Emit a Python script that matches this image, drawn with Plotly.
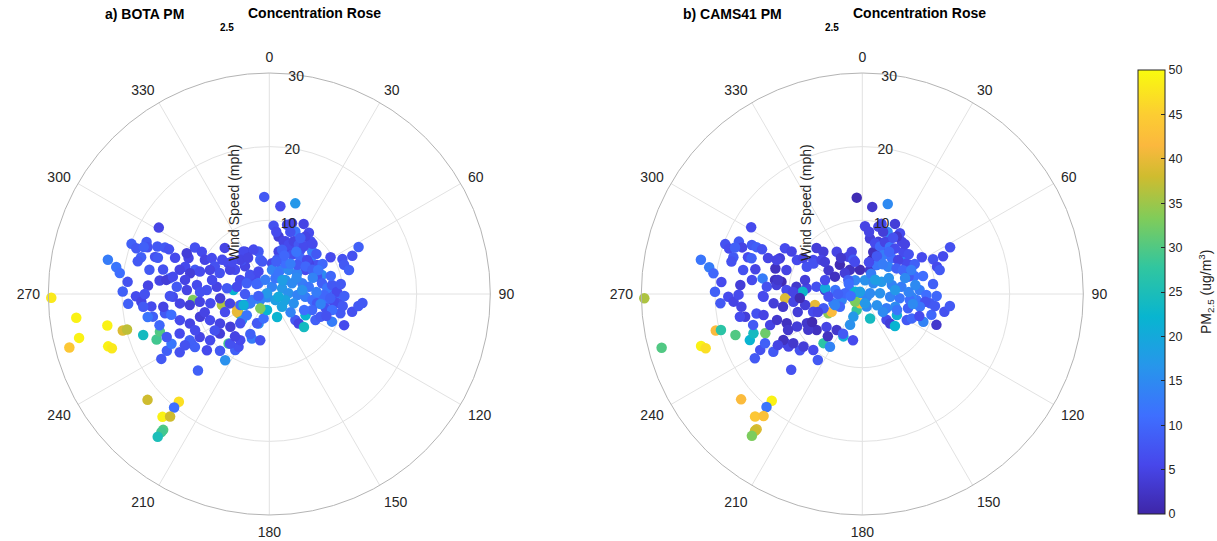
import plotly.graph_objects as go

# ---- BOTA station: wind direction (deg), wind speed (mph), PM2.5 (ug/m3) ----
bota_dir = [
    269, 263, 259, 257, 255, 252, 251, 256, 256, 252, 248, 251, 229, 220, 220, 221, 219, 218, 218, 218,
    282, 280, 278, 271, 301, 290, 289, 293, 291, 290.5, 293, 294, 294, 286, 284, 288, 288, 283, 279, 277,
    266, 269, 266.5, 274, 270, 264, 259, 259.3, 259.5, 258, 239, 241, 243, 237, 223, 237.5, 234.5, 228, 221, 213.7,
    302, 302, 294, 288, 288, 298, 302, 297, 306, 316,
    357, 7.2, 16, 3.6, 14.4, 17.8, 26.1, 22.6, 32.9, 38.1, 32.1, 17, 27.9, 27.3, 21.2, 35.2, 45.3, 50.3, 12.4, 19.6,
    12.8, 5, 345.8, 345.2, 330.4, 59, 64.5, 65.3, 62.2, 68.7, 73.2, 70.2, 58.7, 56.3, 52, 86, 90.9, 97.6, 96, 93,
    96.8, 105.2, 112.6, 113.8, 102.1, 97.7, 135, 135, 133.6, 120.3, 119.5, 114, 135, 161.3, 194, 200, 201.3,
    276.4, 248.5, 237.8, 199.6, 245.4, 251, 226.4, 219.5, 211.3, 210.2, 305.2, 318.7, 304, 321, 321.2, 307, 315, 344, 20, 210, 250, 135,
    6.4, 24.6, 38.8, 53.2, 48.8, 21, 64.8, 71.9, 79.5, 65.8, 88, 92, 94.3, 98, 110.6, 111, 287, 106,
    9.2, 15.3, 21.5, 24.9, 30.9, 36, 16.1, 30.2, 41, 48, 27.5, 43.7, 52.8, 60.7, 70,
    78.5, 84.4, 81.8, 88, 91, 94, 101, 110.5, 104.3, 104.3,
    328.7, 285.1, 284.7, 287.9, 292.1, 292.9, 301.6, 295.8, 315, 334.4,
    274.5, 272.8, 277.1, 273.7, 277.9, 277.7, 282.7, 295.6, 265.5, 256.9,
    241.3, 268.4, 264, 262.1, 263.6, 261, 265, 256.6, 249.2, 243.9,
    236.3, 253.7, 249.6, 251.8, 246.2, 239.1, 230, 224.7, 226.7, 202.8,
    193.2, 247.3, 246.2, 239.8, 238.3, 232, 231.3, 218.4, 212.2, 264.2,
    263.1, 277.8, 280.2, 296.3, 319.5, 340.4, 246.8, 188, 212, 95.5,
    6.4, 18.7, 29, 40.7, 21.5, 32.7, 49.6, 60.5, 35, 12.3,
    63.9, 73.6, 82, 69.6, 59.3, 24.2, 83, 87.6, 91.5, 101, 114.6, 99.3, 111, 130.6, 42.9,
    310.9, 329.7, 347.7, 307.6, 270, 283.8, 271.7, 279.5, 247.8, 236.3, 205.4,
    191.1, 219, 244, 254.3, 268.8, 254.1, 238.7, 281.4, 274.9, 291, 259.7,
]
bota_speed = [
    29.6, 26.4, 22.4, 26.5, 28.1, 23.0, 22.6, 20.5, 19.9, 18.0, 16.5, 15.7, 21.9, 19.1, 20.1, 22.1, 21.4, 23.4, 23.8, 24.6,
    22.4, 21.1, 20.5, 19.9, 17.5, 19.9, 19.1, 18.1, 17.7, 18.2, 16.5, 15.5, 14.9, 18.1, 18.4, 16.3, 15.9, 14.8, 13.7, 15.0,
    19.2, 18.1, 17.4, 16.5, 16.9, 16.1, 16.1, 16.8, 14.4, 13.6, 17.1, 15.9, 14.9, 14.5, 14.2, 12.5, 12.4, 11.4, 10.2, 10.8,
    11.9, 10.8, 12.0, 12.0, 10.6, 9.9, 9.2, 8.3, 7.9, 8.7,
    13.2, 12.0, 12.8, 9.3, 9.7, 10.1, 10.6, 9.2, 9.9, 9.1, 9.2, 7.5, 8.1, 6.8, 6.7, 7.3, 8.2, 7.3, 5.9, 5.2,
    4.8, 4.2, 5.95, 4.8, 6.6, 9.7, 11.0, 12.4, 13.7, 10.9, 11.3, 7.6, 7.6, 5.9, 6.8, 8.1, 9.0, 9.5, 7.7, 6.7,
    8.8, 10.0, 11.0, 9.3, 11.5, 12.2, 5.0, 5.65, 6.5, 5.7, 7.2, 7.6, 2.45, 3.3, 2.25, 4.25, 6.5,
    4.9, 4.7, 4.9, 2.3, 3.6, 2.5, 5.1, 8.7, 8.9, 8.3, 5.7, 5.0, 3.4, 3.0, 5.9, 7.0, 2.06, 2.0, 1.06, 0.5, 1.06, 1.16,
    3.3, 3.6, 4.2, 4.7, 2.9, 2.3, 3.4, 4.7, 5.45, 1.9, 2.6, 3.8, 4.9, 5.9, 2.3, 3.55, 0.33, 1.3,
    7.9, 7.4, 7.2, 7.9, 7.8, 8.0, 6.25, 6.2, 6.45, 6.9, 4.7, 5.5, 6.2, 6.7, 6.9,
    7.3, 7.9, 8.6, 9.2, 7.4, 8.3, 6.6, 6.2, 7.9, 8.8,
    6.75, 12.6, 11.1, 9.9, 8.7, 7.3, 6.25, 4.4, 3.7, 3.4,
    12.6, 11.2, 9.9, 8.5, 7.2, 5.8, 4.5, 3.4, 10.4, 6.6,
    5.0, 13.1, 12.2, 10.9, 9.5, 8.1, 6.7, 5.5, 4.2, 2.9,
    1.5, 12.65, 11.5, 9.9, 8.8, 7.8, 6.9, 5.6, 4.2, 4.3,
    3.4, 15.1, 13.3, 12.5, 11.1, 10.2, 8.6, 8.6, 7.4, 17.2,
    14.5, 14.1, 13.3, 12.5, 6.1, 6.4, 3.8, 2.2, 2.3, 12.7,
    8.5, 8.9, 8.7, 9.0, 5.6, 6.8, 8.4, 8.3, 5.0, 4.5,
    7.4, 8.7, 9.8, 6.3, 4.3, 3.0, 4.5, 6.4, 10.2, 7.1, 5.2, 10.1, 8.3, 3.8, 2.6,
    6.7, 5.7, 4.5, 2.2, 3.3, 8.0, 9.4, 11.6, 6.5, 8.9, 6.0,
    6.4, 7.4, 11.2, 9.1, 13.5, 15.5, 13.4, 16.6, 19.3, 13.7, 1.5,
]
bota_pm = [
    48, 49, 49, 49, 44, 49, 48, 39, 37, 24, 29, 30, 38, 47, 11, 49, 38, 30, 29, 25,
    13, 12, 11, 9, 5, 9, 8, 8, 7, 9, 8, 8, 7, 9, 8, 7, 8, 7, 10, 5,
    9, 6, 5, 5, 7, 6, 9, 12, 8, 11, 8, 9, 12, 7, 9, 8, 9, 6, 8, 16,
    7, 6, 5, 6, 8, 5, 6, 7, 6, 5,
    8, 6, 17, 7, 6, 5, 5, 12, 6, 7, 5, 6, 12, 8, 5, 7, 13, 12, 5, 6,
    8, 6, 8, 9, 4, 6, 7, 7, 9, 8, 9, 15, 7, 6, 5, 8, 10, 7, 11, 12,
    6, 8, 6, 13, 7, 8, 8, 5, 24, 22, 9, 8, 19, 22, 18, 15, 13,
    22, 40, 36, 38, 14, 12, 16, 29, 9, 7, 6, 5, 8, 6, 7, 6, 12, 13, 14, 15, 16, 18,
    14, 13, 15, 14, 16, 12, 15, 13, 12, 17, 16, 14, 13, 11, 19, 16, 17, 20,
    4, 5, 6, 5, 8, 6, 9, 7, 10, 6, 11, 8, 10, 9, 7,
    9, 12, 8, 6, 10, 9, 8, 10, 7, 11,
    6, 5, 4, 6, 5, 7, 5, 6, 7, 6,
    8, 5, 6, 7, 5, 8, 6, 9, 33, 36,
    40, 6, 5, 4, 5, 6, 4, 5, 10, 13,
    14, 6, 5, 4, 6, 5, 4, 7, 12, 8,
    11, 8, 6, 9, 5, 6, 4, 7, 6, 8,
    5, 4, 6, 4, 5, 6, 21, 22, 33, 8,
    6, 7, 9, 6, 10, 12, 8, 10, 13, 9,
    12, 10, 8, 14, 15, 12, 16, 13, 9, 14, 11, 8, 7, 14, 18,
    6, 5, 8, 10, 8, 6, 7, 5, 6, 7, 9,
    7, 5, 6, 5, 7, 10, 7, 8, 7, 6, 9,
]

# ---- CAMS41 station: wind direction (deg), wind speed (mph), PM2.5 (ug/m3) ----
cams_dir = [
    268.9, 255, 256, 255.7, 252.1, 252.1, 250.9, 247.7, 250.2, 248, 229, 220.3, 220.3, 221.2, 219, 218, 218.1, 217.9,
    301, 290, 288.9, 293, 291.2, 290.1, 293.9, 293.9, 294, 282,
    279.9, 277.9, 285.9, 283.9, 287.8, 287.9, 283, 278.9, 277.2, 270.9,
    266.3, 268.8, 266.6, 274.2, 269.7, 264, 259, 259.5, 259.6, 258,
    239.1, 241.3, 243.1, 237, 223.2, 237.5, 234.5, 228, 221.2, 214, 251.4,
    300.6, 301, 293.4, 286.4, 287.6, 297.4, 301.2, 296.2, 304.8, 315.1,
    279.1, 278.7, 291.7, 302, 317.3, 322.4, 339.4, 332.9, 354.5, 17.8,
    274.4, 276, 273, 276.3, 275.9, 279.1, 276.1, 272.2, 266.8, 256.9,
    240.4, 240, 268.4, 264, 260.9, 263.6, 259.1, 250.1, 249.9, 252.2,
    253.8, 253.1, 248.8, 243.5, 242.2, 231.7, 227.4, 215.4, 239.8, 234.5,
    228.2, 218.3, 211.5, 204, 288, 244.5, 287, 121.5, 199.3, 160.9,
    201.6, 240.3, 193.9, 278.7, 248, 223.5, 201.6, 162.4, 287.5,
    356.7, 6.5, 15.8, 2.3, 15.3, 25, 13.4, 22.2, 31.8, 37,
    31, 17, 26.4, 25.5, 20, 33.7, 49, 44.1, 14.6, 15.5,
    345.9, 345.2, 328.8, 58.3, 63.9, 64.9, 62, 69.9, 72.8, 70.9,
    58.7, 59.7, 55.3, 86, 90.9, 97.8, 96.3, 93.1, 97, 106.8,
    114.4, 102.2, 97.8, 112.6, 136.8, 136.6, 134.4, 121.4, 120.4, 116.2,
    7.9, 14.1, 20.5, 23.5, 30.4, 35.6, 28.3, 39.5, 46.6, 26.4, 43.6, 53.2, 59.7, 69.4,
    332.5, 10.9, 45.8, 57.6, 73, 79.5, 315, 84.8, 87.7, 95.6, 96.5, 97.2, 163.8, 127.4, 120.4, 111.2, 80.3, 107.3, 102.4,
    309.9, 305.2, 290.6, 302.4, 320.1, 315, 278.3, 272.3, 265.5,
    6.2, 18.5, 28.7, 40.5, 21.1, 32.4, 49.4, 60.3, 34.6, 11.8,
    63.8, 73.5, 81.9, 69.5, 59.1, 23.5, 83, 87.5, 91.5, 101.2, 114.8, 99.4, 111.2, 131, 42.2,
    310.6, 329.4, 347.1, 306.9, 270, 283.7, 271.7, 279.4, 247.9, 236.5, 205.8,
    191.4, 219.2, 244.1, 254.4, 268.8, 254.2, 238.8, 281.4, 274.9, 290.9, 260, 266.3, 240.9,
]
cams_speed = [
    29.6, 28.2, 20.5, 19.8, 18.1, 23.0, 22.5, 16.5, 15.7, 14.2, 21.8, 19.0, 20.1, 22.1, 21.3, 23.3, 23.6, 24.4,
    17.6, 19.8, 19.1, 18.2, 17.5, 18.4, 16.4, 15.7, 14.9, 22.4,
    21.1, 20.4, 18.2, 18.3, 16.3, 15.8, 14.9, 13.7, 15.1, 20.0,
    19.3, 18.2, 17.5, 16.6, 16.8, 16.5, 16.2, 16.9, 14.6, 13.7,
    17.0, 15.8, 14.8, 14.4, 14.1, 12.4, 12.3, 11.4, 10.1, 10.8, 13.2,
    12.2, 11.2, 12.2, 12.3, 10.8, 10.0, 9.4, 8.4, 8.1, 8.8,
    12.0, 11.1, 12.5, 7.8, 7.8, 5.0, 5.4, 3.7, 3.3, 3.4,
    13.0, 11.7, 10.3, 9.0, 7.6, 6.3, 5.1, 8.1, 10.5, 6.6,
    5.3, 4.8, 13.4, 12.1, 10.9, 9.4, 7.9, 7.1, 5.6, 4.1,
    2.9, 12.1, 11.0, 9.9, 8.5, 7.9, 6.6, 6.0, 12.4, 11.5,
    10.7, 8.5, 8.4, 6.3, 1.75, 1.35, 0.33, 0.7, 2.3, 1.8,
    3.3, 3.5, 1.3, 5.1, 4.0, 1.4, 4.5, 3.5, 1.0,
    13.1, 11.9, 12.7, 9.2, 9.9, 10.5, 9.4, 9.1, 9.7, 8.9,
    9.1, 7.4, 7.9, 6.6, 6.4, 7.2, 7.2, 8.0, 5.9, 4.8,
    5.9, 4.8, 6.7, 9.5, 10.7, 12.1, 13.5, 10.8, 11.0, 7.5,
    7.6, 6.4, 7.3, 7.8, 8.7, 9.3, 7.4, 6.7, 8.6, 9.8,
    9.1, 11.4, 12.0, 10.9, 4.8, 5.5, 6.2, 5.5, 7.0, 7.5,
    7.6, 7.1, 6.9, 7.7, 7.4, 7.6, 6.0, 6.3, 6.7, 4.4, 5.1, 5.8, 6.4, 6.7,
    2.1, 1.9, 2.1, 3.1, 4.2, 5.4, 0.44, 1.05, 2.4, 3.8, 5.1, 6.5, 1.3, 2.5, 3.8, 4.8, 7.3, 6.5, 8.0,
    7.2, 5.6, 5.4, 4.4, 3.7, 2.7, 3.7, 2.35, 4.6,
    8.5, 8.9, 8.7, 8.9, 5.5, 6.8, 8.3, 8.2, 4.9, 4.4,
    7.4, 8.6, 9.7, 6.2, 4.2, 3.0, 4.5, 6.3, 10.1, 7.0, 5.2, 10.0, 8.3, 3.7, 2.6,
    6.7, 5.7, 4.5, 2.3, 3.3, 8.0, 9.4, 11.6, 6.5, 8.8, 6.0,
    6.4, 7.4, 11.2, 9.1, 13.5, 15.4, 13.4, 16.5, 19.2, 13.7, 1.6, 8.5, 7.8,
]
cams_pm = [
    36, 30, 42, 27, 30, 49, 47, 22, 24, 32, 42, 49, 12, 44, 43, 39, 38, 33,
    6, 7, 6, 8, 5, 9, 8, 9, 7, 12,
    13, 10, 8, 7, 6, 9, 5, 13, 6, 9,
    8, 6, 5, 4, 6, 5, 4, 6, 7, 5,
    8, 7, 9, 8, 7, 6, 5, 7, 6, 8, 5,
    6, 5, 4, 2, 5, 6, 5, 7, 6, 4,
    2, 1, 5, 7, 4, 1, 5, 2, 1, 3,
    7, 4, 6, 3, 5, 7, 4, 23, 39, 40,
    34, 42, 6, 4, 3, 5, 4, 6, 8, 12,
    14, 3, 2, 4, 3, 2, 5, 3, 2, 3,
    4, 27, 14, 21, 13, 15, 16, 14, 28, 15,
    17, 10, 42, 20, 14, 33, 16, 24, 22,
    1, 3, 15, 5, 6, 4, 5, 14, 6, 5,
    3, 4, 8, 6, 3, 7, 14, 6, 2, 1,
    5, 8, 5, 6, 7, 6, 7, 6, 8, 11,
    8, 7, 6, 13, 11, 8, 12, 14, 7, 10,
    14, 7, 8, 3, 6, 4, 22, 21, 8, 10,
    4, 6, 10, 5, 12, 6, 13, 11, 5, 12, 14, 9, 10, 8,
    14, 16, 15, 17, 14, 13, 18, 15, 16, 14, 12, 11, 17, 16, 13, 15, 15, 9, 12,
    5, 3, 6, 2, 4, 9, 12, 10, 7,
    5, 4, 7, 5, 8, 10, 7, 9, 13, 6,
    13, 11, 9, 15, 16, 13, 17, 14, 10, 15, 12, 8, 6, 15, 18,
    4, 3, 6, 11, 9, 4, 5, 3, 5, 3, 8,
    6, 2, 3, 4, 6, 8, 5, 7, 6, 5, 11, 1, 1,
]

angle_ticks = list(range(0, 360, 30))
angle_labels = [str(a) for a in angle_ticks]
speed_ticks = [10, 20, 30]
cbar_ticks = list(range(0, 55, 5))

# MATLAB-style parula colour map
parula = [
    [0.000, "#3e26a8"], [0.111, "#4747eb"], [0.222, "#3e6fff"], [0.333, "#2796eb"],
    [0.444, "#08b5d0"], [0.556, "#31c69f"], [0.667, "#81cc59"], [0.760, "#cfbc2f"],
    [0.830, "#fbb83e"], [0.900, "#fccd32"], [1.000, "#f9fb0e"],
]

FONT = "Liberation Sans, Arial, Helvetica, sans-serif"
TXT = "#262626"
W, H = 1217, 541
RADIAL_ANGLE = 87


def px(x):
    return x / W


def py(y):
    return 1 - y / H


fig = go.Figure()

fig.add_trace(go.Scatterpolar(
    r=bota_speed, theta=bota_dir, mode="markers", subplot="polar",
    marker=dict(size=10.5, color=bota_pm, colorscale=parula, cmin=0, cmax=50,
                line=dict(width=0), showscale=False),
    showlegend=False, hoverinfo="skip",
))
fig.add_trace(go.Scatterpolar(
    r=cams_speed, theta=cams_dir, mode="markers", subplot="polar2",
    marker=dict(size=10.5, color=cams_pm, colorscale=parula, cmin=0, cmax=50,
                line=dict(width=0), showscale=True,
                colorbar=dict(
                    x=px(1138), xanchor="left", xpad=0, y=py(292), yanchor="middle", ypad=0,
                    thickness=27, thicknessmode="pixels", len=444, lenmode="pixels",
                    outlinecolor=TXT, outlinewidth=1,
                    tickvals=cbar_ticks, ticks="inside", ticklen=4, tickcolor=TXT,
                    tickfont=dict(family=FONT, size=12.5, color=TXT),
                )),
    showlegend=False, hoverinfo="skip",
))


def polar_layout(x0, x1):
    return dict(
        domain=dict(x=[px(x0), px(x1)], y=[py(515), py(73)]),
        bgcolor="white",
        angularaxis=dict(
            rotation=90, direction="clockwise",
            tickvals=angle_ticks, ticktext=angle_labels,
            tickfont=dict(family=FONT, size=14, color=TXT),
            ticks="outside", ticklen=5, tickcolor="rgba(0,0,0,0)",
            showline=True, linecolor="#b4b4b4", linewidth=1,
            showgrid=True, gridcolor="#e2e2e2", gridwidth=1,
        ),
        radialaxis=dict(
            range=[0, 30], tickvals=speed_ticks, angle=RADIAL_ANGLE, tickangle=RADIAL_ANGLE,
            showline=False, ticks="",
            tickfont=dict(family=FONT, size=14, color=TXT),
            showgrid=True, gridcolor="#e2e2e2", gridwidth=1,
        ),
    )


fig.update_layout(
    width=W, height=H,
    margin=dict(l=0, r=0, t=0, b=0),
    paper_bgcolor="white", plot_bgcolor="white",
    polar=polar_layout(48.3, 490.3),
    polar2=polar_layout(641.3, 1083.3),
    font=dict(family=FONT, color=TXT),
)

annots = []
# Panel titles (subscript placed as MATLAB draws it)
for left, label, sub_x, rest_x in [(103, "a) BOTA PM", 218, 246), (681, "b) CAMS41 PM", 823, 851)]:
    annots.append(dict(x=px(left), y=py(14), text="<b>" + label + "</b>", xanchor="left",
                       font=dict(family=FONT, size=14, color="black")))
    annots.append(dict(x=px(sub_x), y=py(28), text="<b>2.5</b>", xanchor="left",
                       font=dict(family=FONT, size=10, color="black")))
    annots.append(dict(x=px(rest_x), y=py(13), text="<b>Concentration Rose</b>", xanchor="left",
                       font=dict(family=FONT, size=14, color="black")))

# Radial axis titles
for xc in (224, 816):
    annots.append(dict(x=px(xc), y=py(203), text="Wind Speed (mph)", textangle=-90,
                       font=dict(family=FONT, size=14, color=TXT)))

# Colour bar title
annots.append(dict(x=px(1218), y=py(292), text="PM<sub>2.5</sub> (ug/m<sup>3</sup>)", textangle=-90,
                   font=dict(family=FONT, size=14, color=TXT)))

for a in annots:
    a.update(xref="paper", yref="paper", showarrow=False, yanchor=a.get("yanchor", "middle"))
fig.update_layout(annotations=annots)

fig.write_html("out.html")
